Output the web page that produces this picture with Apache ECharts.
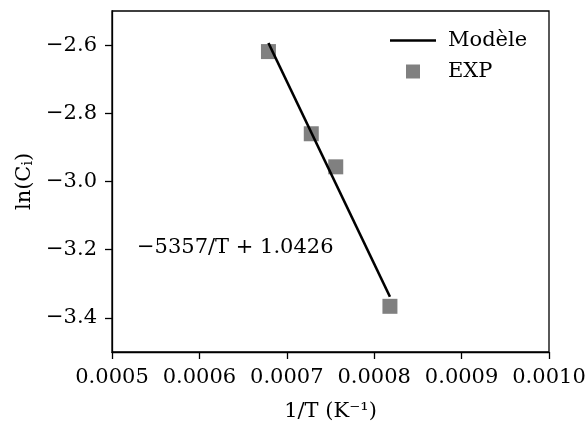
<!DOCTYPE html>
<html>
<head>
<meta charset="utf-8">
<script src="https://cdn.jsdelivr.net/npm/echarts@6/dist/echarts.min.js"></script>
<style>html,body{margin:0;padding:0;background:#fff;}#c{width:588px;height:423px;}</style>
</head>
<body>
<div id="c"></div>
<script>
// Experimental points (1/T, ln(Ci))
const expX = [0.000679, 0.000728, 0.000756, 0.000818];
const expY = [-2.619, -2.860, -2.957, -3.366];
// Model line endpoints
const modelX = [0.000679, 0.000818];
const modelY = [-2.594, -3.338];
// Tick values
const xTicks = [0.0005, 0.0006, 0.0007, 0.0008, 0.0009, 0.0010];
const yTicks = [-3.4, -3.2, -3.0, -2.8, -2.6];
const annotation = '\u22125357/T + 1.0426';

const FONT = 'DejaVu Serif';
const FS = 21;
const chart = echarts.init(document.getElementById('c'));
const minus = s => s.replace('-', '\u2212');
chart.setOption({
  animation: false,
  backgroundColor: '#fff',
  grid: {left: 112, right: 39, top: 11, bottom: 71, outerBoundsMode: 'none', containLabel: false,
    show: true, borderColor: '#000', borderWidth: 1.3, backgroundColor: 'transparent'},
  legend: {
    orient: 'vertical', left: 385, top: 25, itemWidth: 46, itemHeight: 14, itemGap: 10,
    textStyle: {fontFamily: FONT, fontSize: FS, color: '#000', padding: [0, 0, 0, 7]},
    data: [
      {name: 'Modèle', icon: 'path://M0,0H46V2.6H0Z'},
      {name: 'EXP', icon: 'path://M0,0H1V1H0Z'}
    ]
  },
  xAxis: {
    type: 'value', min: xTicks[0], max: xTicks[xTicks.length - 1], interval: 0.0001,
    name: '1/T (K\u207B\u00B9)', nameLocation: 'middle', nameGap: 49,
    nameTextStyle: {fontFamily: FONT, fontSize: FS, color: '#000'},
    axisLine: {lineStyle: {color: '#000', width: 1.3}},
    axisTick: {show: true, inside: false, length: 7, lineStyle: {color: '#000', width: 1.3}},
    axisLabel: {fontFamily: FONT, fontSize: FS, color: '#000', margin: 15, formatter: v => v.toFixed(4)},
    splitLine: {show: false}
  },
  yAxis: {
    type: 'value', min: -3.5, max: -2.5,
    name: 'ln(C{s|i})', nameLocation: 'middle', nameGap: 76,
    nameTextStyle: {fontFamily: FONT, fontSize: FS, color: '#000',
      rich: {s: {fontFamily: FONT, fontSize: 14, color: '#000', verticalAlign: 'bottom', padding: [8, 0, 0, 0]}}},
    axisLine: {lineStyle: {color: '#000', width: 1.3}},
    axisTick: {show: true, inside: false, length: 7, lineStyle: {color: '#000', width: 1.3}, customValues: yTicks},
    axisLabel: {fontFamily: FONT, fontSize: FS, color: '#000', margin: 15, customValues: yTicks,
      formatter: v => minus(v.toFixed(1))},
    splitLine: {show: false}
  },
  graphic: [{
    type: 'text', left: 137, top: 237,
    style: {text: annotation, font: FS + 'px "DejaVu Serif"', fill: '#000'}
  }],
  series: [
    {
      name: 'EXP', type: 'scatter', symbol: 'rect', symbolSize: 15,
      itemStyle: {color: '#808080', opacity: 1},
      data: expX.map((x, i) => [x, expY[i]])
    },
    {
      name: 'Modèle', type: 'line', showSymbol: false, symbol: 'none',
      color: '#000',
      lineStyle: {color: '#000', width: 2.6},
      data: modelX.map((x, i) => [x, modelY[i]])
    }
  ]
});
</script>
</body>
</html>
